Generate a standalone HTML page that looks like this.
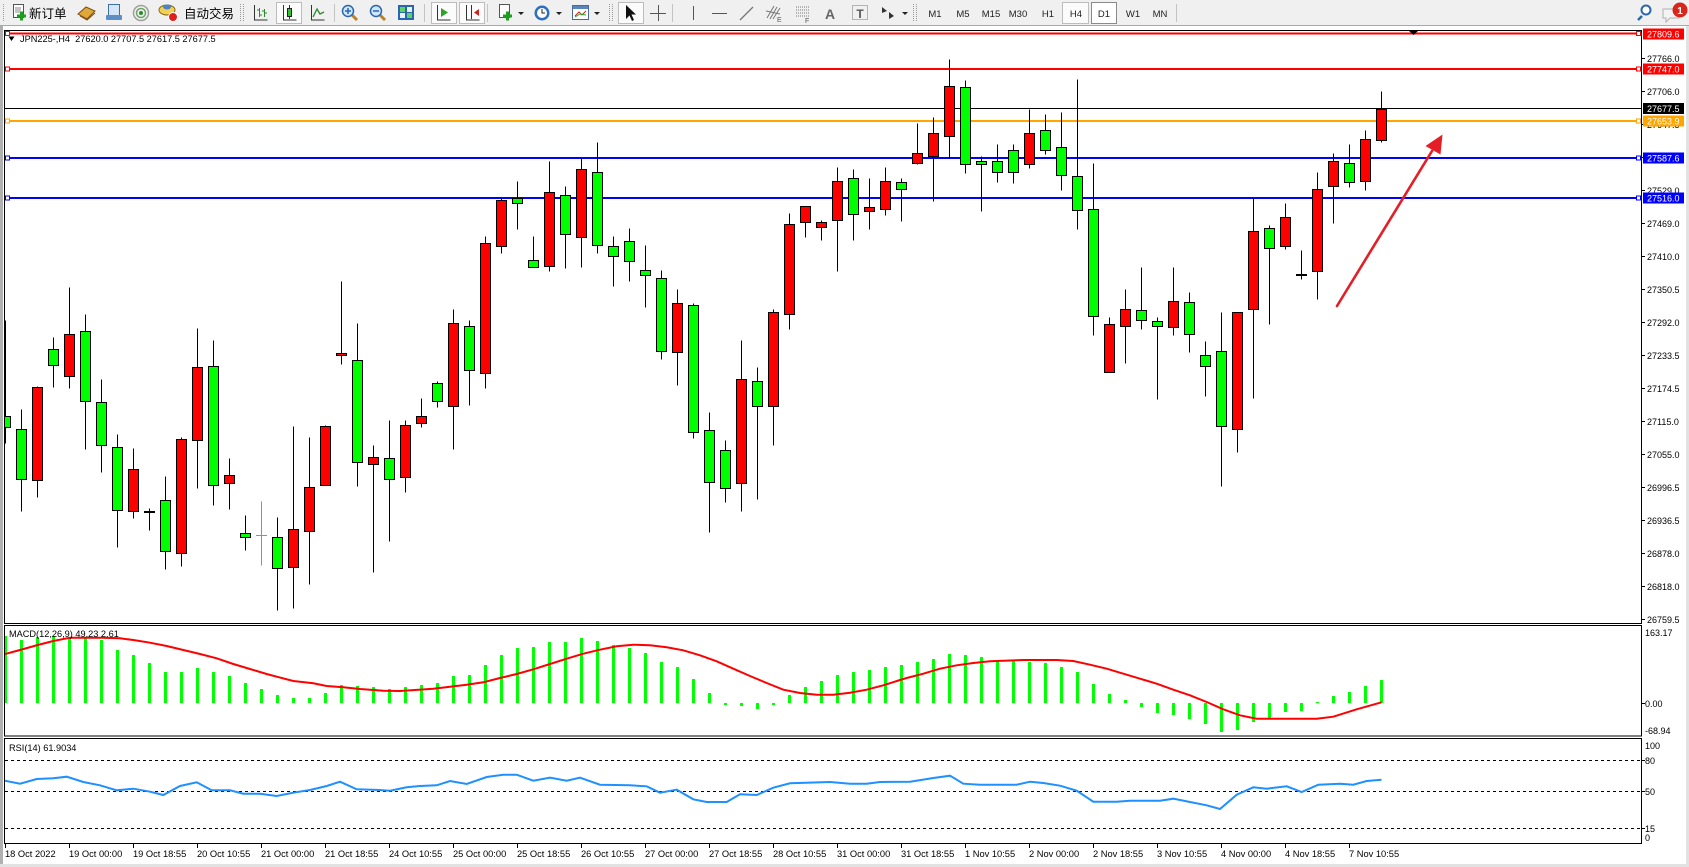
<!DOCTYPE html>
<html><head><meta charset="utf-8">
<style>
html,body{margin:0;padding:0;background:#fff;}
svg{display:block;font-family:"Liberation Sans","Noto Sans CJK SC",sans-serif;}
</style></head><body>
<svg width="1689" height="867" viewBox="0 0 1689 867" xmlns="http://www.w3.org/2000/svg">
<defs>
<clipPath id="cm"><rect x="5" y="31" width="1636" height="592"/></clipPath>
<clipPath id="cmacd"><rect x="5" y="626" width="1636" height="110"/></clipPath>
<clipPath id="crsi"><rect x="5" y="739" width="1636" height="104"/></clipPath>
</defs>

<!-- ===== TOOLBAR ===== -->
<rect x="0" y="0" width="1689" height="26" fill="#f0f0f0"/>
<line x1="0" y1="25.5" x2="1689" y2="25.5" stroke="#a8a8a8"/>
<g stroke="#9a9a9a" stroke-dasharray="1,1">
<line x1="3.5" y1="4" x2="3.5" y2="22"/><line x1="240.5" y1="4" x2="240.5" y2="22"/><line x1="243.5" y1="4" x2="243.5" y2="22"/>
<line x1="609.5" y1="4" x2="609.5" y2="22"/><line x1="612.5" y1="4" x2="612.5" y2="22"/>
<line x1="913.5" y1="4" x2="913.5" y2="22"/><line x1="916.5" y1="4" x2="916.5" y2="22"/>
</g>
<g stroke="#c4c4c4">
<line x1="334.5" y1="4" x2="334.5" y2="22"/><line x1="424.5" y1="4" x2="424.5" y2="22"/><line x1="487.5" y1="4" x2="487.5" y2="22"/>
<line x1="672.5" y1="4" x2="672.5" y2="22"/><line x1="1176.5" y1="4" x2="1176.5" y2="22"/>
</g>
<!-- pressed boxes -->
<g fill="#fbfbfb" stroke="#bdbdbd">
<rect x="276.5" y="2.5" width="25" height="21"/>
<rect x="431.5" y="2.5" width="25" height="21"/>
<rect x="459.5" y="2.5" width="25" height="21"/>
<rect x="618.5" y="2.5" width="25" height="21"/>
<rect x="1062.5" y="2.5" width="26" height="21"/>
</g>
<rect x="1091.5" y="2.5" width="25" height="21" fill="#fff" stroke="#8a8a8a"/>
<!-- new order -->
<rect x="13.5" y="4.5" width="10" height="13" fill="#fff" stroke="#555"/>
<path d="M15 8h6M15 10h6M15 12h5" stroke="#888"/>
<path d="M17 16h9M21.5 11.5v9" stroke="#1e9e1e" stroke-width="3"/>
<text x="29" y="18" font-size="12.5" fill="#000" font-family="'Noto Sans CJK SC',sans-serif">新订单</text>
<!-- book -->
<path d="M78 14 L86 7 L95 11 L87 19 Z" fill="#e0a838" stroke="#7a4f10"/>
<path d="M80 16 L87 20 L95 13" fill="none" stroke="#7a4f10"/>
<!-- blue doc -->
<rect x="108.5" y="4.5" width="11" height="11" fill="#d4e6f7" stroke="#3d6fa6"/>
<rect x="106" y="15" width="16" height="5" rx="1" fill="#5d8ec4"/>
<!-- signal -->
<circle cx="141" cy="13" r="7.5" fill="none" stroke="#a0a0a0" stroke-width="1.5"/>
<circle cx="141" cy="13" r="4.5" fill="none" stroke="#6aa56a" stroke-width="1.5"/>
<circle cx="141" cy="13" r="2" fill="#2c8c2c"/>
<!-- auto trade -->
<ellipse cx="167" cy="10" rx="8" ry="5" fill="#f4cf52" stroke="#876a17"/>
<ellipse cx="167" cy="7" rx="4" ry="2.5" fill="#4b84c4"/>
<circle cx="173" cy="17" r="4.5" fill="#e0201c" stroke="#fff"/>
<text x="184" y="18" font-size="12.5" fill="#000" font-family="'Noto Sans CJK SC',sans-serif">自动交易</text>
<!-- chart types -->
<path d="M254.5 5v15h13" fill="none" stroke="#333"/>
<path d="M259.5 8v9M257 10h2.5M259.5 15h2.5M264.5 9v8M262 11h2.5M264.5 13h2.5" stroke="#2a8a2a" fill="none"/>
<path d="M283.5 5v15h13" fill="none" stroke="#333"/>
<line x1="289.5" y1="5" x2="289.5" y2="19" stroke="#333"/>
<rect x="287.5" y="8.5" width="4" height="8" fill="#30c030" stroke="#222"/>
<path d="M311.5 5v15h13" fill="none" stroke="#333"/>
<path d="M313 17 L317 9 L320 14 L324 12" fill="none" stroke="#2a8a2a" stroke-width="1.3"/>
<!-- zoom -->
<line x1="352" y1="15" x2="357" y2="20" stroke="#b9822a" stroke-width="3"/>
<circle cx="348" cy="11" r="5.5" fill="#cfe6ff" stroke="#2a66b0" stroke-width="1.5"/>
<path d="M345 11h6M348 8v6" stroke="#2a66b0" stroke-width="1.5"/>
<line x1="380" y1="15" x2="385" y2="20" stroke="#b9822a" stroke-width="3"/>
<circle cx="376" cy="11" r="5.5" fill="#cfe6ff" stroke="#2a66b0" stroke-width="1.5"/>
<path d="M373 11h6" stroke="#2a66b0" stroke-width="1.5"/>
<rect x="398" y="5" width="16" height="15" fill="#2a66b0"/>
<rect x="400" y="7" width="5" height="5" fill="#5fd35f"/><rect x="407" y="7" width="5" height="5" fill="#e8f2ff"/>
<rect x="400" y="13" width="5" height="5" fill="#e8f2ff"/><rect x="407" y="13" width="5" height="5" fill="#5fd35f"/>
<!-- autoscroll / shift -->
<path d="M437.5 5v15h13" fill="none" stroke="#333"/>
<path d="M441 8 L448 12.5 L441 17 Z" fill="#2aa52a"/>
<path d="M466.5 5v15h13" fill="none" stroke="#333"/>
<line x1="471.5" y1="5" x2="471.5" y2="19" stroke="#333"/>
<path d="M479 9 L474 12.5 L479 16 Z" fill="#d02020"/>
<!-- new chart, periods, templates -->
<rect x="499.5" y="4.5" width="10" height="13" fill="#fff" stroke="#555"/>
<path d="M503 16h9M507.5 11.5v9" stroke="#1e9e1e" stroke-width="3"/>
<path d="M518 12h6l-3 3z" fill="#222"/>
<circle cx="542" cy="13" r="7.5" fill="#2f6fc0"/>
<circle cx="542" cy="13" r="5" fill="#fff"/>
<path d="M542 9v4h3" stroke="#222" fill="none"/>
<path d="M556 12h6l-3 3z" fill="#222"/>
<rect x="572.5" y="5.5" width="16" height="14" fill="#fff" stroke="#4a6a9a"/>
<rect x="573" y="6" width="15" height="3" fill="#5a86c0"/>
<path d="M575 16 L579 12 L582 15 L586 11" stroke="#d02020" fill="none"/>
<path d="M575 17 L580 14 L586 15" stroke="#2aa52a" fill="none"/>
<path d="M594 12h6l-3 3z" fill="#222"/>
<!-- cursor tools -->
<path d="M626 5 L626 19 L629.5 15.5 L632 21 L634 20 L631.5 14.5 L636 14.5 Z" fill="#111"/>
<path d="M658.5 5v16M650 13.5h16" stroke="#555"/>
<line x1="693.5" y1="6" x2="693.5" y2="20" stroke="#555"/>
<line x1="712" y1="13.5" x2="727" y2="13.5" stroke="#555"/>
<line x1="740" y1="20" x2="753" y2="7" stroke="#777" stroke-width="1.3"/>
<path d="M767 18 L774 6 M770 19 L777 7 M773 19 L780 8 M766 11 L780 14" stroke="#777" fill="none"/>
<text x="777" y="22" font-size="7" fill="#555">E</text>
<path d="M796 7h13M796 10h13M796 13h13M796 16h13" stroke="#777" stroke-dasharray="1,1"/>
<text x="805" y="23" font-size="7" fill="#555">F</text>
<text x="830" y="19" font-size="14" fill="#666" text-anchor="middle" font-weight="bold">A</text>
<rect x="852.5" y="5.5" width="15" height="14" fill="none" stroke="#777" stroke-dasharray="1,1"/>
<text x="860" y="18" font-size="12" fill="#555" text-anchor="middle" font-weight="bold">T</text>
<path d="M882 7 L887 11 L882 13 Z" fill="#333"/><path d="M889 12 L894 16 L889 19 Z" fill="#333"/>
<path d="M902 12h6l-3 3z" fill="#222"/>
<!-- timeframes -->
<g font-size="9.5" fill="#222" text-anchor="middle">
<text x="935" y="17">M1</text><text x="963" y="17">M5</text><text x="991" y="17">M15</text><text x="1018" y="17">M30</text>
<text x="1048" y="17">H1</text><text x="1076" y="17">H4</text><text x="1104" y="17">D1</text><text x="1133" y="17">W1</text><text x="1160" y="17">MN</text>
</g>
<!-- right icons -->
<line x1="1642" y1="16" x2="1638" y2="20" stroke="#2a66b0" stroke-width="2.5"/>
<circle cx="1646" cy="10" r="4.5" fill="#fff" stroke="#2a66b0" stroke-width="2"/>
<path d="M1663 9 h16 v9 h-9 l-4 4 v-4 h-3 z" fill="#f4f4f4" stroke="#b0b0b0"/>
<circle cx="1680" cy="10" r="7.5" fill="#d9261c"/>
<text x="1680" y="14" font-size="10" fill="#fff" text-anchor="middle" font-weight="bold">1</text>

<!-- ===== FRAME ===== -->
<rect x="0" y="26" width="3" height="841" fill="#b0b0b0"/>
<rect x="1686" y="26" width="3" height="841" fill="#e2e2e2"/>
<rect x="0" y="864" width="1689" height="3" fill="#e2e2e2"/>
<g fill="none" stroke="#000">
<rect x="4.5" y="30.5" width="1637" height="593"/>
<rect x="4.5" y="625.5" width="1637" height="110.5"/>
<rect x="4.5" y="738.5" width="1637" height="105"/>
</g>

<!-- ===== HORIZONTAL LINES ===== -->
<g clip-path="url(#cm)">
<line x1="5" y1="33.5" x2="1641" y2="33.5" stroke="#ff0000" stroke-width="2"/>
<line x1="5" y1="69" x2="1641" y2="69" stroke="#ff0000" stroke-width="2"/>
<line x1="5" y1="108.5" x2="1641" y2="108.5" stroke="#000" stroke-width="1"/>
<line x1="5" y1="121" x2="1641" y2="121" stroke="#ffa500" stroke-width="2"/>
<line x1="5" y1="158" x2="1641" y2="158" stroke="#0000ff" stroke-width="2"/>
<line x1="5" y1="198" x2="1641" y2="198" stroke="#0000ff" stroke-width="2"/>
</g>
<g fill="#fff" stroke-width="1">
<rect x="5.5" y="31.5" width="4" height="4" stroke="#ff0000"/><rect x="1636.5" y="31.5" width="4" height="4" stroke="#ff0000"/>
<rect x="5.5" y="67" width="4" height="4" stroke="#ff0000"/><rect x="1636.5" y="67" width="4" height="4" stroke="#ff0000"/>
<rect x="5.5" y="119" width="4" height="4" stroke="#ffa500"/><rect x="1636.5" y="119" width="4" height="4" stroke="#ffa500"/>
<rect x="5.5" y="156" width="4" height="4" stroke="#0000ff"/><rect x="1636.5" y="156" width="4" height="4" stroke="#0000ff"/>
<rect x="5.5" y="196" width="4" height="4" stroke="#0000ff"/><rect x="1636.5" y="196" width="4" height="4" stroke="#0000ff"/>
</g>
<polygon points="1408,30 1419,30 1413.5,35" fill="#000"/>

<!-- header -->
<polygon points="8.5,36.5 14.5,36.5 11.5,41" fill="#000"/>
<text x="20" y="42" font-size="9.2" fill="#000" xml:space="preserve">JPN225-,H4  27620.0 27707.5 27617.5 27677.5</text>

<!-- ===== CANDLES ===== -->
<g clip-path="url(#cm)"><g transform="translate(0,0.5)" stroke="#000" stroke-width="1">
<line x1="5.5" y1="320" x2="5.5" y2="443"/><rect x="0.5" y="416" width="10" height="11" fill="#00ff00"/>
<line x1="21.5" y1="409" x2="21.5" y2="511"/><rect x="16.5" y="429" width="10" height="50" fill="#00ff00"/>
<line x1="37.5" y1="386" x2="37.5" y2="497"/><rect x="32.5" y="387" width="10" height="93" fill="#ff0000"/>
<line x1="53.5" y1="337" x2="53.5" y2="387"/><rect x="48.5" y="349" width="10" height="16" fill="#00ff00"/>
<line x1="69.5" y1="287" x2="69.5" y2="388"/><rect x="64.5" y="334" width="10" height="42" fill="#ff0000"/>
<line x1="85.5" y1="314" x2="85.5" y2="449"/><rect x="80.5" y="331" width="10" height="70" fill="#00ff00"/>
<line x1="101.5" y1="379" x2="101.5" y2="472"/><rect x="96.5" y="402" width="10" height="43" fill="#00ff00"/>
<line x1="117.5" y1="434" x2="117.5" y2="547"/><rect x="112.5" y="447" width="10" height="63" fill="#00ff00"/>
<line x1="133.5" y1="448" x2="133.5" y2="518"/><rect x="128.5" y="469" width="10" height="42" fill="#ff0000"/>
<line x1="149.5" y1="508" x2="149.5" y2="530"/><rect x="144.5" y="511" width="10" height="1" fill="#000"/>
<line x1="165.5" y1="476" x2="165.5" y2="569"/><rect x="160.5" y="500" width="10" height="51" fill="#00ff00"/>
<line x1="181.5" y1="437" x2="181.5" y2="566"/><rect x="176.5" y="439" width="10" height="114" fill="#ff0000"/>
<line x1="197.5" y1="328" x2="197.5" y2="488"/><rect x="192.5" y="367" width="10" height="73" fill="#ff0000"/>
<line x1="213.5" y1="340" x2="213.5" y2="505"/><rect x="208.5" y="366" width="10" height="119" fill="#00ff00"/>
<line x1="229.5" y1="458" x2="229.5" y2="509"/><rect x="224.5" y="475" width="10" height="8" fill="#ff0000"/>
<line x1="245.5" y1="515" x2="245.5" y2="550"/><rect x="240.5" y="533" width="10" height="4" fill="#00ff00"/>
<line x1="261.5" y1="501" x2="261.5" y2="565" stroke="#22dd22"/><line x1="256" y1="535" x2="267" y2="535" stroke="#22dd22"/>
<line x1="277.5" y1="517" x2="277.5" y2="610"/><rect x="272.5" y="537" width="10" height="31" fill="#00ff00"/>
<line x1="293.5" y1="426" x2="293.5" y2="608"/><rect x="288.5" y="529" width="10" height="38" fill="#ff0000"/>
<line x1="309.5" y1="437" x2="309.5" y2="584"/><rect x="304.5" y="487" width="10" height="44" fill="#ff0000"/>
<line x1="325.5" y1="425" x2="325.5" y2="485"/><rect x="320.5" y="426" width="10" height="59" fill="#ff0000"/>
<line x1="341.5" y1="281" x2="341.5" y2="364"/><rect x="336.5" y="353" width="10" height="2" fill="#ff0000"/>
<line x1="357.5" y1="323" x2="357.5" y2="486"/><rect x="352.5" y="360" width="10" height="102" fill="#00ff00"/>
<line x1="373.5" y1="445" x2="373.5" y2="572"/><rect x="368.5" y="457" width="10" height="7" fill="#ff0000"/>
<line x1="389.5" y1="420" x2="389.5" y2="541"/><rect x="384.5" y="458" width="10" height="21" fill="#00ff00"/>
<line x1="405.5" y1="420" x2="405.5" y2="492"/><rect x="400.5" y="425" width="10" height="52" fill="#ff0000"/>
<line x1="421.5" y1="398" x2="421.5" y2="427"/><rect x="416.5" y="416" width="10" height="7" fill="#ff0000"/>
<line x1="437.5" y1="381" x2="437.5" y2="407"/><rect x="432.5" y="383" width="10" height="18" fill="#00ff00"/>
<line x1="453.5" y1="309" x2="453.5" y2="449"/><rect x="448.5" y="323" width="10" height="83" fill="#ff0000"/>
<line x1="469.5" y1="320" x2="469.5" y2="405"/><rect x="464.5" y="326" width="10" height="44" fill="#00ff00"/>
<line x1="485.5" y1="236" x2="485.5" y2="388"/><rect x="480.5" y="243" width="10" height="130" fill="#ff0000"/>
<line x1="501.5" y1="198" x2="501.5" y2="253"/><rect x="496.5" y="200" width="10" height="46" fill="#ff0000"/>
<line x1="517.5" y1="181" x2="517.5" y2="229"/><rect x="512.5" y="198" width="10" height="5" fill="#00ff00"/>
<line x1="533.5" y1="236" x2="533.5" y2="267"/><rect x="528.5" y="260" width="10" height="7" fill="#00ff00"/>
<line x1="549.5" y1="161" x2="549.5" y2="271"/><rect x="544.5" y="192" width="10" height="74" fill="#ff0000"/>
<line x1="565.5" y1="186" x2="565.5" y2="268"/><rect x="560.5" y="195" width="10" height="39" fill="#00ff00"/>
<line x1="581.5" y1="158" x2="581.5" y2="267"/><rect x="576.5" y="169" width="10" height="68" fill="#ff0000"/>
<line x1="597.5" y1="142" x2="597.5" y2="253"/><rect x="592.5" y="172" width="10" height="73" fill="#00ff00"/>
<line x1="613.5" y1="236" x2="613.5" y2="286"/><rect x="608.5" y="246" width="10" height="10" fill="#00ff00"/>
<line x1="629.5" y1="228" x2="629.5" y2="281"/><rect x="624.5" y="241" width="10" height="20" fill="#00ff00"/>
<line x1="645.5" y1="245" x2="645.5" y2="307"/><rect x="640.5" y="270" width="10" height="5" fill="#00ff00"/>
<line x1="661.5" y1="270" x2="661.5" y2="359"/><rect x="656.5" y="278" width="10" height="73" fill="#00ff00"/>
<line x1="677.5" y1="289" x2="677.5" y2="385"/><rect x="672.5" y="303" width="10" height="49" fill="#ff0000"/>
<line x1="693.5" y1="303" x2="693.5" y2="438"/><rect x="688.5" y="305" width="10" height="127" fill="#00ff00"/>
<line x1="709.5" y1="412" x2="709.5" y2="532"/><rect x="704.5" y="430" width="10" height="52" fill="#00ff00"/>
<line x1="725.5" y1="440" x2="725.5" y2="502"/><rect x="720.5" y="450" width="10" height="38" fill="#00ff00"/>
<line x1="741.5" y1="340" x2="741.5" y2="511"/><rect x="736.5" y="379" width="10" height="104" fill="#ff0000"/>
<line x1="757.5" y1="367" x2="757.5" y2="499"/><rect x="752.5" y="381" width="10" height="25" fill="#00ff00"/>
<line x1="773.5" y1="309" x2="773.5" y2="445"/><rect x="768.5" y="312" width="10" height="94" fill="#ff0000"/>
<line x1="789.5" y1="213" x2="789.5" y2="329"/><rect x="784.5" y="224" width="10" height="90" fill="#ff0000"/>
<line x1="805.5" y1="206" x2="805.5" y2="237"/><rect x="800.5" y="206" width="10" height="16" fill="#ff0000"/>
<line x1="821.5" y1="220" x2="821.5" y2="240"/><rect x="816.5" y="222" width="10" height="5" fill="#ff0000"/>
<line x1="837.5" y1="167" x2="837.5" y2="271"/><rect x="832.5" y="181" width="10" height="39" fill="#ff0000"/>
<line x1="853.5" y1="169" x2="853.5" y2="240"/><rect x="848.5" y="178" width="10" height="36" fill="#00ff00"/>
<line x1="869.5" y1="178" x2="869.5" y2="229"/><rect x="864.5" y="207" width="10" height="4" fill="#ff0000"/>
<line x1="885.5" y1="167" x2="885.5" y2="215"/><rect x="880.5" y="181" width="10" height="28" fill="#ff0000"/>
<line x1="901.5" y1="178" x2="901.5" y2="221"/><rect x="896.5" y="182" width="10" height="7" fill="#00ff00"/>
<line x1="917.5" y1="123" x2="917.5" y2="164"/><rect x="912.5" y="153" width="10" height="10" fill="#ff0000"/>
<line x1="933.5" y1="117" x2="933.5" y2="201"/><rect x="928.5" y="133" width="10" height="23" fill="#ff0000"/>
<line x1="949.5" y1="59" x2="949.5" y2="158"/><rect x="944.5" y="86" width="10" height="50" fill="#ff0000"/>
<line x1="965.5" y1="80" x2="965.5" y2="173"/><rect x="960.5" y="87" width="10" height="77" fill="#00ff00"/>
<line x1="981.5" y1="156" x2="981.5" y2="211"/><rect x="976.5" y="161" width="10" height="3" fill="#00ff00"/>
<line x1="997.5" y1="144" x2="997.5" y2="182"/><rect x="992.5" y="161" width="10" height="11" fill="#00ff00"/>
<line x1="1013.5" y1="144" x2="1013.5" y2="183"/><rect x="1008.5" y="150" width="10" height="22" fill="#00ff00"/>
<line x1="1029.5" y1="109" x2="1029.5" y2="168"/><rect x="1024.5" y="133" width="10" height="31" fill="#ff0000"/>
<line x1="1045.5" y1="114" x2="1045.5" y2="154"/><rect x="1040.5" y="130" width="10" height="20" fill="#00ff00"/>
<line x1="1061.5" y1="112" x2="1061.5" y2="190"/><rect x="1056.5" y="147" width="10" height="28" fill="#00ff00"/>
<line x1="1077.5" y1="79" x2="1077.5" y2="229"/><rect x="1072.5" y="176" width="10" height="34" fill="#00ff00"/>
<line x1="1093.5" y1="163" x2="1093.5" y2="335"/><rect x="1088.5" y="209" width="10" height="107" fill="#00ff00"/>
<line x1="1109.5" y1="317" x2="1109.5" y2="372"/><rect x="1104.5" y="324" width="10" height="48" fill="#ff0000"/>
<line x1="1125.5" y1="289" x2="1125.5" y2="363"/><rect x="1120.5" y="309" width="10" height="17" fill="#ff0000"/>
<line x1="1141.5" y1="267" x2="1141.5" y2="329"/><rect x="1136.5" y="310" width="10" height="10" fill="#00ff00"/>
<line x1="1157.5" y1="317" x2="1157.5" y2="399"/><rect x="1152.5" y="321" width="10" height="5" fill="#00ff00"/>
<line x1="1173.5" y1="267" x2="1173.5" y2="335"/><rect x="1168.5" y="301" width="10" height="26" fill="#ff0000"/>
<line x1="1189.5" y1="292" x2="1189.5" y2="352"/><rect x="1184.5" y="302" width="10" height="32" fill="#00ff00"/>
<line x1="1205.5" y1="341" x2="1205.5" y2="396"/><rect x="1200.5" y="355" width="10" height="11" fill="#00ff00"/>
<line x1="1221.5" y1="312" x2="1221.5" y2="486"/><rect x="1216.5" y="351" width="10" height="75" fill="#00ff00"/>
<line x1="1237.5" y1="312" x2="1237.5" y2="452"/><rect x="1232.5" y="312" width="10" height="117" fill="#ff0000"/>
<line x1="1253.5" y1="198" x2="1253.5" y2="398"/><rect x="1248.5" y="231" width="10" height="78" fill="#ff0000"/>
<line x1="1269.5" y1="225" x2="1269.5" y2="324"/><rect x="1264.5" y="228" width="10" height="20" fill="#00ff00"/>
<line x1="1285.5" y1="203" x2="1285.5" y2="249"/><rect x="1280.5" y="217" width="10" height="29" fill="#ff0000"/>
<line x1="1301.5" y1="250" x2="1301.5" y2="279"/><rect x="1296.5" y="274" width="10" height="1" fill="#000"/>
<line x1="1317.5" y1="172" x2="1317.5" y2="299"/><rect x="1312.5" y="189" width="10" height="82" fill="#ff0000"/>
<line x1="1333.5" y1="153" x2="1333.5" y2="223"/><rect x="1328.5" y="161" width="10" height="25" fill="#ff0000"/>
<line x1="1349.5" y1="144" x2="1349.5" y2="187"/><rect x="1344.5" y="163" width="10" height="19" fill="#00ff00"/>
<line x1="1365.5" y1="130" x2="1365.5" y2="190"/><rect x="1360.5" y="139" width="10" height="42" fill="#ff0000"/>
<line x1="1381.5" y1="91" x2="1381.5" y2="142"/><rect x="1376.5" y="109" width="10" height="31" fill="#ff0000"/>
</g></g>

<!-- arrow -->
<line x1="1337" y1="306" x2="1432" y2="151" stroke="#e41e26" stroke-width="2.6" stroke-linecap="round"/>
<polygon points="1442.5,134.5 1425.5,146 1440.5,154.5" fill="#e41e26"/>

<!-- ===== PRICE AXIS ===== -->
<g stroke="#000">
<line x1="1642" y1="58.5" x2="1645" y2="58.5"/><line x1="1642" y1="91.5" x2="1645" y2="91.5"/><line x1="1642" y1="124.5" x2="1645" y2="124.5"/>
<line x1="1642" y1="157.5" x2="1645" y2="157.5"/><line x1="1642" y1="190.5" x2="1645" y2="190.5"/><line x1="1642" y1="223.5" x2="1645" y2="223.5"/>
<line x1="1642" y1="256.5" x2="1645" y2="256.5"/><line x1="1642" y1="289.5" x2="1645" y2="289.5"/><line x1="1642" y1="322.5" x2="1645" y2="322.5"/>
<line x1="1642" y1="355.5" x2="1645" y2="355.5"/><line x1="1642" y1="388.5" x2="1645" y2="388.5"/><line x1="1642" y1="421.5" x2="1645" y2="421.5"/>
<line x1="1642" y1="454.5" x2="1645" y2="454.5"/><line x1="1642" y1="487.5" x2="1645" y2="487.5"/><line x1="1642" y1="520.5" x2="1645" y2="520.5"/>
<line x1="1642" y1="553.5" x2="1645" y2="553.5"/><line x1="1642" y1="586.5" x2="1645" y2="586.5"/><line x1="1642" y1="619.5" x2="1645" y2="619.5"/>
<line x1="1642" y1="703.5" x2="1645" y2="703.5"/>
<line x1="1642" y1="760.5" x2="1645" y2="760.5"/><line x1="1642" y1="791.5" x2="1645" y2="791.5"/><line x1="1642" y1="828.5" x2="1645" y2="828.5"/>
</g>
<g font-size="9" fill="#000">
<text x="1647" y="62">27766.0</text><text x="1647" y="95">27706.0</text><text x="1647" y="128">27647.5</text>
<text x="1647" y="161">27588.0</text><text x="1647" y="194">27529.0</text><text x="1647" y="227">27469.0</text>
<text x="1647" y="260">27410.0</text><text x="1647" y="293">27350.5</text><text x="1647" y="326">27292.0</text>
<text x="1647" y="359">27233.5</text><text x="1647" y="392">27174.5</text><text x="1647" y="425">27115.0</text>
<text x="1647" y="458">27055.0</text><text x="1647" y="491">26996.5</text><text x="1647" y="524">26936.5</text>
<text x="1647" y="557">26878.0</text><text x="1647" y="590">26818.0</text><text x="1647" y="623">26759.5</text>
<text x="1645" y="636">163.17</text><text x="1645" y="707">0.00</text><text x="1645" y="734">-68.94</text>
<text x="1645" y="749">100</text><text x="1645" y="764">80</text><text x="1645" y="795">50</text><text x="1645" y="832">15</text><text x="1645" y="841">0</text>
</g>
<!-- colored price boxes -->
<rect x="1643" y="28.5" width="41" height="11" fill="#ff0000"/>
<rect x="1643" y="63.5" width="41" height="11" fill="#ff0000"/>
<rect x="1643" y="103" width="41" height="11" fill="#000"/>
<rect x="1643" y="115.5" width="41" height="11" fill="#ffa500"/>
<rect x="1643" y="152.5" width="41" height="11" fill="#0000ff"/>
<rect x="1643" y="192.5" width="41" height="11" fill="#0000ff"/>
<g font-size="9" fill="#fff">
<text x="1647" y="37.5">27809.6</text><text x="1647" y="72.5">27747.0</text><text x="1647" y="112">27677.5</text>
<text x="1647" y="124.5">27653.9</text><text x="1647" y="161.5">27587.6</text><text x="1647" y="201.5">27516.0</text>
</g>

<!-- ===== MACD ===== -->
<g clip-path="url(#cmacd)" fill="#00ff00">
<rect x="4" y="636" width="3" height="67"/><rect x="20" y="640" width="3" height="63"/><rect x="36" y="637" width="3" height="66"/>
<rect x="52" y="636" width="3" height="67"/><rect x="68" y="637" width="3" height="66"/><rect x="84" y="637" width="3" height="66"/>
<rect x="100" y="640" width="3" height="63"/><rect x="116" y="650" width="3" height="53"/><rect x="132" y="655" width="3" height="48"/>
<rect x="148" y="663" width="3" height="40"/><rect x="164" y="672" width="3" height="31"/><rect x="180" y="672" width="3" height="31"/>
<rect x="196" y="668" width="3" height="35"/><rect x="212" y="672" width="3" height="31"/><rect x="228" y="676" width="3" height="27"/>
<rect x="244" y="683" width="3" height="20"/><rect x="260" y="689" width="3" height="14"/><rect x="276" y="695" width="3" height="8"/>
<rect x="292" y="698" width="3" height="5"/><rect x="308" y="698" width="3" height="5"/><rect x="324" y="693" width="3" height="10"/>
<rect x="340" y="685" width="3" height="18"/><rect x="356" y="686" width="3" height="17"/><rect x="372" y="687" width="3" height="16"/>
<rect x="388" y="689" width="3" height="14"/><rect x="404" y="687" width="3" height="16"/><rect x="420" y="685" width="3" height="18"/>
<rect x="436" y="683" width="3" height="20"/><rect x="452" y="676" width="3" height="27"/><rect x="468" y="675" width="3" height="28"/>
<rect x="484" y="665" width="3" height="38"/><rect x="500" y="655" width="3" height="48"/><rect x="516" y="648" width="3" height="55"/>
<rect x="532" y="647" width="3" height="56"/><rect x="548" y="642" width="3" height="61"/><rect x="564" y="642" width="3" height="61"/>
<rect x="580" y="638" width="3" height="65"/><rect x="596" y="641" width="3" height="62"/><rect x="612" y="645" width="3" height="58"/>
<rect x="628" y="648" width="3" height="55"/><rect x="644" y="653" width="3" height="50"/><rect x="660" y="662" width="3" height="41"/>
<rect x="676" y="667" width="3" height="36"/><rect x="692" y="679" width="3" height="24"/><rect x="708" y="693" width="3" height="10"/>
<rect x="724" y="703" width="3" height="2"/><rect x="740" y="703" width="3" height="3"/><rect x="756" y="703" width="3" height="6"/>
<rect x="772" y="703" width="3" height="2"/><rect x="788" y="695" width="3" height="8"/><rect x="804" y="687" width="3" height="16"/>
<rect x="820" y="681" width="3" height="22"/><rect x="836" y="675" width="3" height="28"/><rect x="852" y="672" width="3" height="31"/>
<rect x="868" y="670" width="3" height="33"/><rect x="884" y="667" width="3" height="36"/><rect x="900" y="665" width="3" height="38"/>
<rect x="916" y="662" width="3" height="41"/><rect x="932" y="659" width="3" height="44"/><rect x="948" y="654" width="3" height="49"/>
<rect x="964" y="655" width="3" height="48"/><rect x="980" y="657" width="3" height="46"/><rect x="996" y="660" width="3" height="43"/>
<rect x="1012" y="661" width="3" height="42"/><rect x="1028" y="662" width="3" height="41"/><rect x="1044" y="663" width="3" height="40"/>
<rect x="1060" y="667" width="3" height="36"/><rect x="1076" y="672" width="3" height="31"/><rect x="1092" y="684" width="3" height="19"/>
<rect x="1108" y="694" width="3" height="9"/><rect x="1124" y="700" width="3" height="3"/><rect x="1140" y="703" width="3" height="4"/>
<rect x="1156" y="703" width="3" height="10"/><rect x="1172" y="703" width="3" height="12"/><rect x="1188" y="703" width="3" height="16"/>
<rect x="1204" y="703" width="3" height="21"/><rect x="1220" y="703" width="3" height="29"/><rect x="1236" y="703" width="3" height="27"/>
<rect x="1252" y="703" width="3" height="19"/><rect x="1268" y="703" width="3" height="15"/><rect x="1284" y="703" width="3" height="9"/>
<rect x="1300" y="703" width="3" height="8"/><rect x="1316" y="702" width="3" height="1"/><rect x="1332" y="696" width="3" height="7"/>
<rect x="1348" y="692" width="3" height="11"/><rect x="1364" y="686" width="3" height="17"/><rect x="1380" y="680" width="3" height="23"/>
</g>
<g clip-path="url(#cmacd)">
<polyline fill="none" stroke="#ff0000" stroke-width="2" points="5,654 20,650 37.7,645 53.3,641 70,637.7 86.7,637.7 103.3,637.7 120,638.3 133.3,640 150,642.7 166.7,646 183.3,650 200,654 216.7,658.3 233.3,664 250,669 266.7,674 276.7,676.7 293.3,681 313.3,683.3 326.7,686 343.3,687.3 360,689 383.3,690.7 400,691 433.3,688.7 466.7,684.7 483.3,682.3 500,678 516.7,674 533.3,669.3 550,664 566.7,658.7 583.3,653.7 600,649.7 616.7,646.3 633.3,644.7 650,645.3 666.7,647.3 683.3,650.3 700,655.3 716.7,661.3 733.3,668.7 750,676 766.7,683 783.3,689.7 800,693 816.7,694.7 833.3,694.7 850,692.7 866.7,689.7 883.3,685.3 900,680 906.7,678 923.3,673.7 940,668.7 956.7,665.3 973.3,663 990,661.3 1023.3,660 1056.7,660 1073.3,661 1090,664.7 1106.7,668.7 1123.3,673.7 1140,678.7 1156.7,683.7 1173.3,689.7 1190,695.3 1206.7,702 1223.3,709.3 1240,715.3 1256.7,718.7 1290,718.7 1316.7,718.7 1333.3,716.7 1356.7,709.3 1381.5,702.3"/>
</g>
<text x="9" y="637" font-size="9.2" fill="#000">MACD(12,26,9) 49.23 2.61</text>

<!-- ===== RSI ===== -->
<g stroke="#000" stroke-dasharray="3,3">
<line x1="5" y1="760.5" x2="1641" y2="760.5"/>
<line x1="5" y1="791.5" x2="1641" y2="791.5"/>
<line x1="5" y1="828.5" x2="1641" y2="828.5"/>
</g>
<g clip-path="url(#crsi)">
<polyline fill="none" stroke="#1e90ff" stroke-width="2" points="5,780.7 20,783.7 36.7,779 53.3,778.3 66.7,776.7 83.3,782 100,785.3 116.7,790.3 133.3,788.7 150,791.7 163.3,795 180,786 196.7,782.3 211.7,790.3 230,790.3 243.3,793.7 260,793.7 276.7,796 293.3,792.7 310,790 326.7,786 340,781.7 356.7,789.3 380,790 390,790.7 406.7,787.3 420,786 436.7,785.3 450,781 466.7,784 486.7,777 503.3,774.7 516.7,774.7 533.3,780.7 550,777.7 566.7,780.7 580,777.7 600,784.7 630,785.3 646.7,786.3 660,792.7 676.7,789.7 693.3,799.3 706.7,802 726.7,802 740,794.3 756.7,795 773.3,787.7 790,783.3 830,782 850,783.7 866.7,783.7 880,782 910,781.7 933.3,778 950,775.7 963.3,783.7 980,784.7 1016.7,784.7 1030,781.7 1043.3,783 1060,785.7 1076.7,790.7 1093.3,801.7 1116.7,801.7 1130,800.7 1160,800.7 1173.3,798.7 1190,802 1206.7,805.3 1220,809 1236.7,794.7 1253.3,787.3 1266.7,788.7 1286.7,786.3 1301.7,792 1318.3,784.7 1340,783.7 1353.3,784.7 1366.7,781 1381.5,779.7"/>
</g>
<text x="9" y="751" font-size="9.2" fill="#000">RSI(14) 61.9034</text>

<!-- ===== TIME AXIS ===== -->
<g stroke="#000">
<line x1="5.5" y1="844" x2="5.5" y2="848"/><line x1="69.5" y1="844" x2="69.5" y2="848"/><line x1="133.5" y1="844" x2="133.5" y2="848"/>
<line x1="197.5" y1="844" x2="197.5" y2="848"/><line x1="261.5" y1="844" x2="261.5" y2="848"/><line x1="325.5" y1="844" x2="325.5" y2="848"/>
<line x1="389.5" y1="844" x2="389.5" y2="848"/><line x1="453.5" y1="844" x2="453.5" y2="848"/><line x1="517.5" y1="844" x2="517.5" y2="848"/>
<line x1="581.5" y1="844" x2="581.5" y2="848"/><line x1="645.5" y1="844" x2="645.5" y2="848"/><line x1="709.5" y1="844" x2="709.5" y2="848"/>
<line x1="773.5" y1="844" x2="773.5" y2="848"/><line x1="837.5" y1="844" x2="837.5" y2="848"/><line x1="901.5" y1="844" x2="901.5" y2="848"/>
<line x1="965.5" y1="844" x2="965.5" y2="848"/><line x1="1029.5" y1="844" x2="1029.5" y2="848"/><line x1="1093.5" y1="844" x2="1093.5" y2="848"/>
<line x1="1157.5" y1="844" x2="1157.5" y2="848"/><line x1="1221.5" y1="844" x2="1221.5" y2="848"/><line x1="1285.5" y1="844" x2="1285.5" y2="848"/>
<line x1="1349.5" y1="844" x2="1349.5" y2="848"/>
</g>
<g font-size="9.3" fill="#000">
<text x="5" y="857">18 Oct 2022</text><text x="69" y="857">19 Oct 00:00</text><text x="133" y="857">19 Oct 18:55</text>
<text x="197" y="857">20 Oct 10:55</text><text x="261" y="857">21 Oct 00:00</text><text x="325" y="857">21 Oct 18:55</text>
<text x="389" y="857">24 Oct 10:55</text><text x="453" y="857">25 Oct 00:00</text><text x="517" y="857">25 Oct 18:55</text>
<text x="581" y="857">26 Oct 10:55</text><text x="645" y="857">27 Oct 00:00</text><text x="709" y="857">27 Oct 18:55</text>
<text x="773" y="857">28 Oct 10:55</text><text x="837" y="857">31 Oct 00:00</text><text x="901" y="857">31 Oct 18:55</text>
<text x="965" y="857">1 Nov 10:55</text><text x="1029" y="857">2 Nov 00:00</text><text x="1093" y="857">2 Nov 18:55</text>
<text x="1157" y="857">3 Nov 10:55</text><text x="1221" y="857">4 Nov 00:00</text><text x="1285" y="857">4 Nov 18:55</text>
<text x="1349" y="857">7 Nov 10:55</text>
</g>
</svg>
</body></html>
